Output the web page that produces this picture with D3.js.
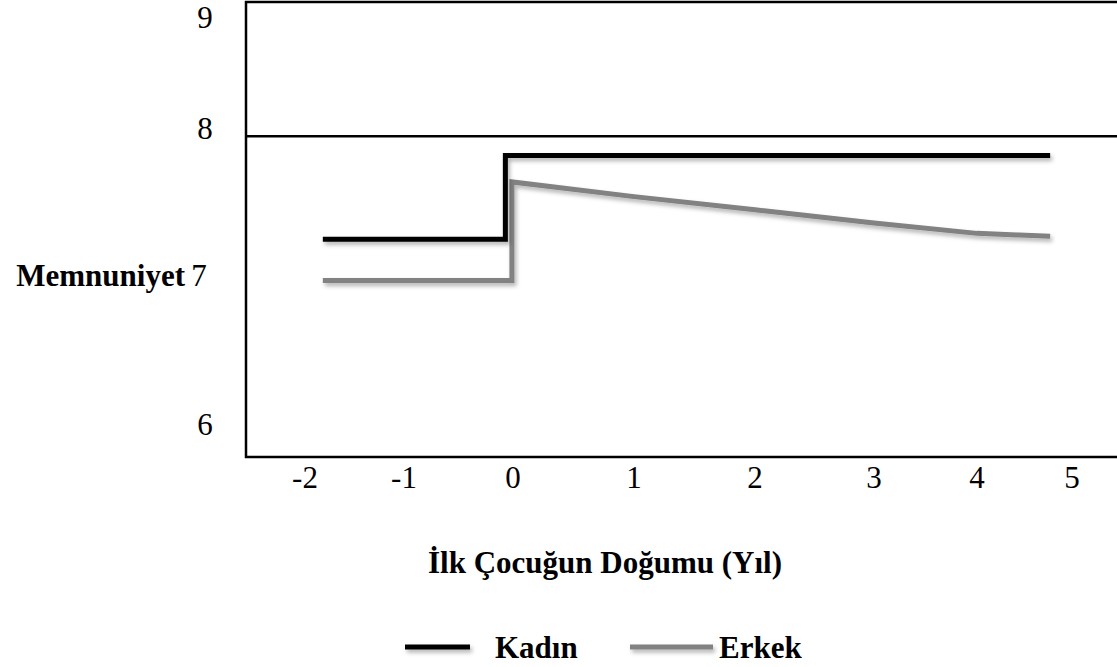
<!DOCTYPE html>
<html>
<head>
<meta charset="utf-8">
<script src="https://cdn.jsdelivr.net/npm/d3@7"></script>
<style>
  body { margin: 0; background: #fff; overflow: hidden; }
  text { font-family: "Liberation Serif", "Times New Roman", serif; fill: #000; }
</style>
</head>
<body>
<div id="chart"></div>
<script>
// tick labels
const xTicks = [-2, -1, 0, 1, 2, 3, 4, 5];
const yTicks = [6, 7, 8, 9];

// series values (year, satisfaction)
const kadin = [[-1.82, 7.25], [-0.07, 7.25], [-0.07, 7.82], [4.77, 7.82]];
const erkek = [[-1.82, 6.97], [-0.01, 6.97], [-0.01, 7.64], [1, 7.54], [2, 7.45], [3, 7.36], [4, 7.29], [4.77, 7.27]];
const refLine = 7.95;

const seriesNames = ["Kadın", "Erkek"];
const seriesColors = ["#000000", "#828282"];

const W = 1117, H = 667;
const fontSize = 31;

// the source figure spaces its ticks unevenly, so scales are piecewise
let xScale = d3.scaleLinear()
              .domain(xTicks)
              .range([305, 404, 513, 634, 755, 874, 977, 1072]);

let yScale = d3.scaleLinear()
              .domain(yTicks)
              .range([425, 276, 129, 18]);

let svg = d3.select("#chart").append("svg")
            .attr("width", W)
            .attr("height", H);

// drop shadow; user space units so flat lines keep it too
let defs = svg.append("defs");
let shadow = defs.append("filter").attr("id", "shadow")
                 .attr("filterUnits", "userSpaceOnUse")
                 .attr("x", 0).attr("y", 0)
                 .attr("width", W).attr("height", H);
shadow.append("feDropShadow")
      .attr("dx", 2).attr("dy", 3)
      .attr("stdDeviation", 2)
      .attr("flood-color", "#000")
      .attr("flood-opacity", 0.3);

// plot frame (right side runs off the page)
let frameL = 246, frameT = 2, frameB = 457;
svg.append("path")
   .attr("d", `M${W + 5},${frameT}H${frameL}V${frameB}H${W + 5}`)
   .attr("fill", "none")
   .attr("stroke", "#000")
   .attr("stroke-width", 2.5);

// horizontal reference line just under 8
svg.append("line")
   .attr("x1", frameL).attr("x2", W + 5)
   .attr("y1", yScale(refLine)).attr("y2", yScale(refLine))
   .attr("stroke", "#000")
   .attr("stroke-width", 2.5);

// y tick labels
svg.append("g").selectAll("text")
   .data(yTicks)
   .join("text")
   .attr("x", d => d === 7 ? 199 : 205)
   .attr("y", d => yScale(d) + 10)
   .attr("text-anchor", "middle")
   .attr("font-size", fontSize)
   .text(d => d);

svg.append("text")
   .attr("x", 185)
   .attr("y", yScale(7) + 10)
   .attr("text-anchor", "end")
   .attr("font-size", fontSize)
   .attr("font-weight", "bold")
   .text("Memnuniyet");

// x tick labels
svg.append("g").selectAll("text")
   .data(xTicks)
   .join("text")
   .attr("x", d => xScale(d))
   .attr("y", 488)
   .attr("text-anchor", "middle")
   .attr("font-size", fontSize)
   .text(d => d);

svg.append("text")
   .attr("x", 605)
   .attr("y", 573)
   .attr("text-anchor", "middle")
   .attr("font-size", fontSize)
   .attr("font-weight", "bold")
   .text("İlk Çocuğun Doğumu (Yıl)");

// lines
let line = d3.line()
             .x(d => xScale(d[0]))
             .y(d => yScale(d[1]));

svg.append("g").selectAll("path")
   .data([erkek, kadin])
   .join("path")
   .attr("d", line)
   .attr("fill", "none")
   .attr("stroke", (d, i) => i === 0 ? seriesColors[1] : seriesColors[0])
   .attr("stroke-width", 5)
   .attr("stroke-linejoin", "miter")
   .attr("filter", "url(#shadow)");

// legend
let legendItems = [
  {name: seriesNames[0], color: seriesColors[0], x1: 405, x2: 470, tx: 495},
  {name: seriesNames[1], color: seriesColors[1], x1: 630, x2: 713, tx: 719}
];
let legend = svg.append("g");
legend.selectAll("line")
      .data(legendItems)
      .join("line")
      .attr("x1", d => d.x1).attr("x2", d => d.x2)
      .attr("y1", 647).attr("y2", 647)
      .attr("stroke", d => d.color)
      .attr("stroke-width", 5)
      .attr("filter", "url(#shadow)");
legend.selectAll("text")
      .data(legendItems)
      .join("text")
      .attr("x", d => d.tx)
      .attr("y", 658)
      .attr("font-size", fontSize)
      .attr("font-weight", "bold")
      .text(d => d.name);
</script>
</body>
</html>
